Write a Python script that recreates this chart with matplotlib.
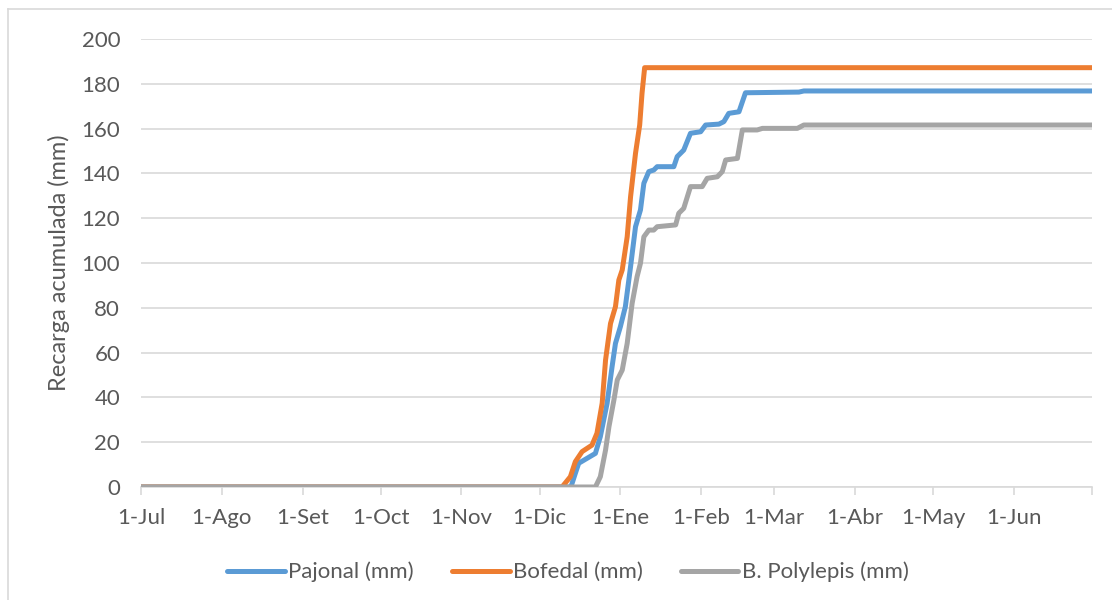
import matplotlib
matplotlib.use("Agg")
import matplotlib.pyplot as plt
from matplotlib.lines import Line2D

# Days counted from 1-Jul
month_labels = ["1-Jul", "1-Ago", "1-Set", "1-Oct", "1-Nov", "1-Dic",
                "1-Ene", "1-Feb", "1-Mar", "1-Abr", "1-May", "1-Jun"]
month_days = [0, 31, 62, 92, 123, 153, 184, 215, 243, 274, 304, 335]
end_day = 365

pajonal_days = [0, 165.0, 166.7, 168.0, 171.2, 174.4, 176.3, 178.9, 180.8, 182.1,
                184.0, 185.9, 187.9, 189.8, 191.7, 193.0, 194.9, 196.8, 198.1,
                204.5, 205.8, 208.3, 210.9, 214.8, 216.7, 221.8, 223.7, 225.6,
                229.5, 232.0, 252.5, 254.4, 365]
pajonal_vals = [0, 0, 6.1, 10.6, 12.8, 15.0, 22.5, 37.4, 53.7, 64.1,
                71.6, 80.5, 98.4, 116.2, 123.7, 135.6, 140.8, 141.5, 143.0,
                143.0, 147.5, 150.4, 157.9, 158.6, 161.6, 162.0, 163.1, 166.8,
                167.5, 176.0, 176.3, 176.8, 176.8]

bofedal_days = [0, 161.6, 164.8, 166.7, 169.3, 173.1, 175.0, 177.0, 178.3, 180.2,
                182.1, 183.4, 184.7, 186.6, 187.9, 189.8, 191.4, 192.3, 193.3, 365]
bofedal_vals = [0, 0, 4.6, 11.3, 15.8, 18.7, 24.0, 37.4, 56.7, 73.0,
                80.5, 92.4, 96.9, 111.7, 129.6, 149.0, 161.6, 175.8, 187.2, 187.2]

polylepis_days = [0, 174.4, 176.3, 178.3, 179.6, 181.5, 182.8, 184.7, 186.6, 188.5,
                  190.4, 191.7, 193.0, 194.9, 196.8, 198.1, 205.2, 206.4, 208.3,
                  210.9, 215.4, 217.3, 221.2, 223.1, 224.4, 228.9, 230.8, 236.5,
                  238.5, 251.9, 254.4, 365]
polylepis_vals = [0, 0, 4.6, 16.5, 26.9, 38.8, 47.8, 52.2, 64.1, 82.0,
                  93.9, 99.9, 111.7, 114.7, 114.7, 116.2, 117.0, 122.2, 124.4,
                  134.1, 134.1, 137.8, 138.5, 140.8, 146.0, 146.7, 159.4, 159.4,
                  160.1, 160.1, 161.6, 161.6]

y_ticks = [0, 20, 40, 60, 80, 100, 120, 140, 160, 180, 200]

FONT = "Lato"
TXT = "#595959"
GRID = "#d9d9d9"
FS = 16
LW = 3.6

fig = plt.figure(figsize=(11.12, 6.0), dpi=100)
ax = fig.add_axes([141/1112, 1 - 487/600, (1092 - 141)/1112, (487 - 39)/600])

ax.plot(pajonal_days, pajonal_vals, color="#5B9BD5", lw=LW, solid_capstyle="round",
        solid_joinstyle="round", label="Pajonal (mm)", zorder=3)
ax.plot(bofedal_days, bofedal_vals, color="#ED7D31", lw=LW, solid_capstyle="round",
        solid_joinstyle="round", label="Bofedal (mm)", zorder=3)
ax.plot(polylepis_days, polylepis_vals, color="#A5A5A5", lw=LW, solid_capstyle="round",
        solid_joinstyle="round", label="B. Polylepis (mm)", zorder=3)

ax.set_xlim(0, end_day)
ax.set_ylim(0, 200)
ax.set_yticks(y_ticks)
ax.set_yticklabels([str(v) for v in y_ticks], fontsize=FS, color=TXT, family=FONT)
ax.set_xticks(month_days + [end_day])
ax.set_xticklabels(month_labels + [""], fontsize=FS, color=TXT, family=FONT)

ax.yaxis.grid(True, color=GRID, lw=1.2)
ax.set_axisbelow(True)
for s in ["top", "right", "left"]:
    ax.spines[s].set_visible(False)
ax.spines["bottom"].set_color(GRID)
ax.spines["bottom"].set_linewidth(1.2)
ax.tick_params(axis="y", length=0, pad=15)
ax.tick_params(axis="x", length=6, width=1.2, color=GRID, pad=9)

ax.set_ylabel("Recarga acumulada (mm)", fontsize=FS + 1, color=TXT, family=FONT, labelpad=8)

handles, labels = ax.get_legend_handles_labels()
fig.legend(handles, labels, loc="center", bbox_to_anchor=(568/1112, 1 - 572/600),
           ncol=3, frameon=False, prop={"family": FONT, "size": FS},
           labelcolor=TXT, handlelength=2.6, handletextpad=0.15, columnspacing=1.7)

# outer chart border (left and top visible)
fig.add_artist(Line2D([7.5/1112, 7.5/1112], [0, 1 - 8.5/600], color=GRID, lw=1.2,
                      transform=fig.transFigure))
fig.add_artist(Line2D([7.5/1112, 1], [1 - 8.5/600, 1 - 8.5/600], color=GRID, lw=1.2,
                      transform=fig.transFigure))

fig.savefig("out.png", dpi=100)
